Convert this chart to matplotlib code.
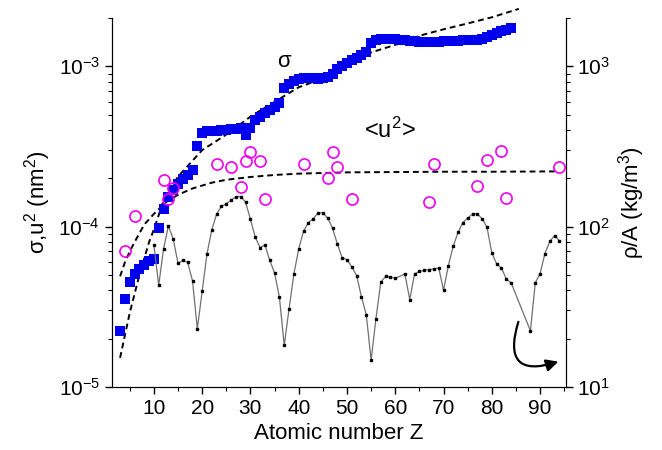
import numpy as np
import matplotlib
matplotlib.use("Agg")
import matplotlib.pyplot as plt
from matplotlib.ticker import LogLocator, MultipleLocator

plt.rcParams['font.family'] = ['Liberation Sans', 'DejaVu Sans']
plt.rcParams['mathtext.default'] = 'regular'

# sigma (nm^2), blue squares, Z = 3..84
z_sigma = list(range(3, 85))
sigma = [0.225, 0.356, 0.45, 0.51, 0.545, 0.575, 0.61, 0.625, 0.98, 1.29,
         1.53, 1.70, 1.84, 1.97, 2.10, 2.25, 3.2, 3.85, 3.92, 3.95,
         3.97, 4.0, 4.02, 4.05, 4.08, 4.1, 3.75, 4.15, 4.6, 4.85,
         5.1, 5.35, 5.6, 5.9, 7.3, 7.8, 8.1, 8.35, 8.45, 8.45,
         8.4, 8.35, 8.4, 8.6, 9.0, 9.6, 10.0, 10.5, 10.9, 11.3,
         11.8, 12.2, 14.0, 14.6, 14.8, 14.8, 14.75, 14.7, 14.6, 14.5,
         14.4, 14.3, 14.2, 14.1, 14.1, 14.15, 14.2, 14.3, 14.4, 14.4,
         14.45, 14.5, 14.5, 14.55, 14.6, 14.7, 15.2, 15.6, 16.1, 16.5,
         16.9, 17.3]
sigma = [v * 1e-4 for v in sigma]

# <u^2> (nm^2), open circles
z_u2 = [4, 6, 12, 13, 14, 23, 26, 28, 29, 30, 32, 33, 41, 46, 47, 48, 51,
        67, 68, 77, 79, 82, 83, 94]
u2 = [0.70, 1.17, 1.94, 1.49, 1.73, 2.46, 2.34, 1.76, 2.58, 2.92, 2.58, 1.49,
      2.46, 2.01, 2.92, 2.35, 1.49, 1.42, 2.47, 1.78, 2.59, 2.98, 1.50, 2.35]
u2 = [v * 1e-4 for v in u2]

# fit curves (dashed)
z_fit_s = [3, 4, 5, 7, 9, 10, 12, 15, 20, 25, 30, 35, 40, 45, 50, 55, 60,
           65, 70, 75, 80, 85.6]
fit_s = [0.152, 0.21, 0.29, 0.50, 0.80, 0.96, 1.45, 2.05, 3.0, 3.75, 4.85,
         6.0, 7.4, 8.4, 9.9, 12.2, 13.6, 15.5, 17.0, 18.5, 20.2, 22.8]
fit_s = [v * 1e-4 for v in fit_s]

z_fit_u = [3, 4, 5, 6, 8, 10, 12.5, 15, 18, 22, 25, 30, 35, 40, 50, 60, 70,
           80, 93]
fit_u = [0.49, 0.60, 0.70, 0.80, 1.03, 1.20, 1.42, 1.58, 1.73, 1.88, 1.96,
         2.04, 2.10, 2.14, 2.18, 2.19, 2.20, 2.20, 2.21]
fit_u = [v * 1e-4 for v in fit_u]

# rho/A (kg/m^3), right axis
z_rho = list(range(10, 61)) + list(range(62, 85)) + list(range(88, 95))
rho = [77, 43, 72.6, 101, 84, 59, 61.6, 59.8, 46, 23,
       39.5, 67.6, 95.7, 120, 134, 139, 146, 154, 154, 142,
       111, 86, 74, 77, 61.7, 51.4, 36.4, 18.2, 30.7, 50.7,
       72.6, 93.6, 106, 112, 122, 122, 113, 98, 78, 64,
       62.2, 56.1, 49.5, 36.4, 28.2, 14.7, 26.7, 45, 49, 48.5,
       47.6,
       50.7, 35.1, 50.7, 52.6, 53.4, 54, 54.5, 55.2, 40.1, 57.2,
       75.4, 92, 106, 113, 120, 120, 112, 99, 68.6, 58.5,
       55.2, 47.2, 44.6,
       22.4, 44.6, 51, 67.9, 80.9, 87.9, 81.8]

fig = plt.figure(figsize=(6.62, 4.5), dpi=100)
ax = fig.add_axes([0.169, 0.14, 0.6855, 0.82])
ax2 = ax.twinx()

ax.plot(z_fit_s, fit_s, 'k--', lw=1.4, dashes=(3, 2), clip_on=False, zorder=3)
ax.plot(z_fit_u, fit_u, 'k--', lw=1.4, dashes=(3, 2), zorder=3)
ax.plot(z_sigma, sigma, 's', color='#0000ee', ms=7.5, mew=0, zorder=4)
ax.plot(z_u2, u2, 'o', mfc='none', mec='#f000f0', ms=8, mew=1.2, zorder=5)

ax2.plot(z_rho, rho, '-', color='#707070', lw=0.9, marker='s', ms=1.8,
         mfc='k', mec='k')

ax.set_yscale('log')
ax2.set_yscale('log')
ax.set_ylim(1e-5, 2e-3)
ax2.set_ylim(10, 2000)
ax.set_xlim(1.3, 95.3)

ax.xaxis.set_major_locator(MultipleLocator(10))
ax.xaxis.set_minor_locator(MultipleLocator(5))
for a in (ax, ax2):
    a.spines['top'].set_visible(False)
    a.yaxis.set_major_locator(LogLocator(base=10, numticks=10))
    a.yaxis.set_minor_locator(LogLocator(base=10, subs=np.arange(2, 10), numticks=10))
    a.tick_params(which='major', direction='out', length=5, width=1, labelsize=15)
    a.tick_params(which='minor', direction='out', length=3, width=0.8)
ax.tick_params(axis='x', which='both', top=False)

ax.set_xlabel('Atomic number Z', fontsize=16)
ax.set_ylabel('σ,u$^2$ (nm$^2$)', fontsize=16)
ax2.set_ylabel('ρ/A (kg/m$^3$)', fontsize=16)

ax.text(36.9, 1.07e-3, 'σ', fontsize=16, ha='center', va='center')
ax.text(58.8, 4.0e-4, '<u$^2$>', fontsize=17, ha='center', va='center')

ax2.annotate('', xy=(93.8, 14.4), xytext=(85.5, 25.5),
             arrowprops=dict(arrowstyle='-|>', color='k', lw=1.6,
                             connectionstyle='arc3,rad=0.95',
                             mutation_scale=18, shrinkA=0, shrinkB=0))

fig.savefig('out.png', dpi=100)
